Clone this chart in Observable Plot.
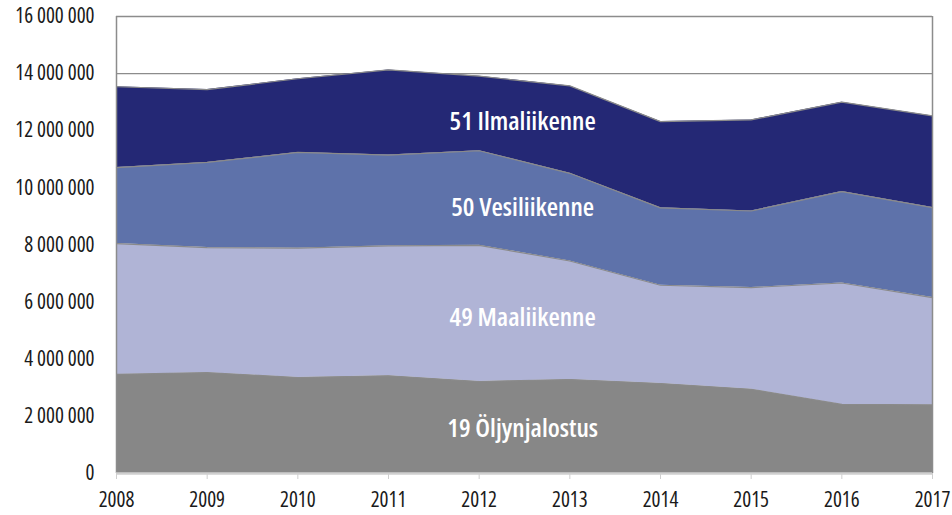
<!DOCTYPE html>
<html>
<head>
<meta charset="utf-8">
<script src="https://cdn.jsdelivr.net/npm/d3@7"></script>
<script src="https://cdn.jsdelivr.net/npm/@observablehq/plot@0.6"></script>
<style>
  html, body { margin: 0; padding: 0; background: #fff; }
  #chart { width: 952px; height: 515px; }
  #chart svg, #chart svg text { font-family: 'Open Sans', sans-serif; font-stretch: condensed; }
</style>
</head>
<body>
<div id="chart"></div>
<script>
const years = [2008, 2009, 2010, 2011, 2012, 2013, 2014, 2015, 2016, 2017];
const seriesNames = ["19 Öljynjalostus", "49 Maaliikenne", "50 Vesiliikenne", "51 Ilmaliikenne"];
const oljynjalostus = [3470000, 3530000, 3360000, 3420000, 3220000, 3290000, 3150000, 2950000, 2420000, 2400000];
const maaliikenne   = [4580000, 4380000, 4530000, 4550000, 4770000, 4150000, 3440000, 3560000, 4250000, 3760000];
const vesiliikenne  = [2660000, 2980000, 3350000, 3180000, 3310000, 3070000, 2710000, 2680000, 3200000, 3150000];
const ilmaliikenne  = [2830000, 2550000, 2580000, 2980000, 2610000, 3060000, 3020000, 3190000, 3130000, 3210000];
const seriesColors = ["#878787", "#b0b4d6", "#5e72aa", "#242875"];
const yTicks = [0, 2000000, 4000000, 6000000, 8000000, 10000000, 12000000, 14000000, 16000000];
// label anchor positions (year, value) for in-area series labels
const labelYears = [2012.48, 2012.48, 2012.48, 2012.48];
const labelValues = [1560000, 5450000, 9300000, 12310000];

const seriesValues = [oljynjalostus, maaliikenne, vesiliikenne, ilmaliikenne];
const data = [];
seriesNames.forEach((s, i) => years.forEach((yr, j) => data.push({year: yr, series: s, value: seriesValues[i][j]})));
const labels = seriesNames.map((s, i) => ({year: labelYears[i], value: labelValues[i], text: s}));

const fmtY = v => String(v).replace(/\B(?=(\d{3})+(?!\d))/g, " ");

const chart = Plot.plot({
  width: 952,
  height: 515,
  marginLeft: 116,
  marginRight: 20,
  marginTop: 16,
  marginBottom: 42,
  style: {fontFamily: "'Open Sans', sans-serif", fontStretch: "condensed", fontSize: "21px", color: "#1a1a1a", background: "#fff"},
  x: {domain: [2008, 2017], label: null},
  y: {domain: [0, 16000000], label: null},
  color: {domain: seriesNames, range: seriesColors},
  marks: [
    Plot.ruleY(yTicks, {stroke: "#8c8c8c", strokeWidth: 1.2}),
    Plot.areaY(data, {x: "year", y: "value", z: "series", fill: "series", order: seriesNames}),
    Plot.lineY(data, Plot.stackY2({x: "year", y: "value", z: "series", order: seriesNames, stroke: "#8a8a8a", strokeWidth: 1.2})),
    Plot.ruleX([2008, 2017], {stroke: "#8c8c8c", strokeWidth: 1.5}),
    Plot.ruleY([16000000], {stroke: "#8c8c8c", strokeWidth: 1.5}),
    Plot.ruleY([0], {stroke: "#cfcfcf", strokeWidth: 2.5}),
    Plot.axisX({ticks: years, tickFormat: d => String(d), tickSize: 6, tickPadding: 13, stroke: "#cfcfcf", fill: "#1a1a1a", fontSize: 21, fontWeight: 500, label: null}),
    Plot.axisY({ticks: yTicks, tickFormat: fmtY, tickSize: 0, tickPadding: 22, fill: "#1a1a1a", fontSize: 21, fontWeight: 500, label: null}),
    Plot.text(labels, {x: "year", y: "value", text: "text", fill: "white", fontSize: 26, fontWeight: 600})
  ]
});
document.getElementById("chart").appendChild(chart);
</script>
</body>
</html>
